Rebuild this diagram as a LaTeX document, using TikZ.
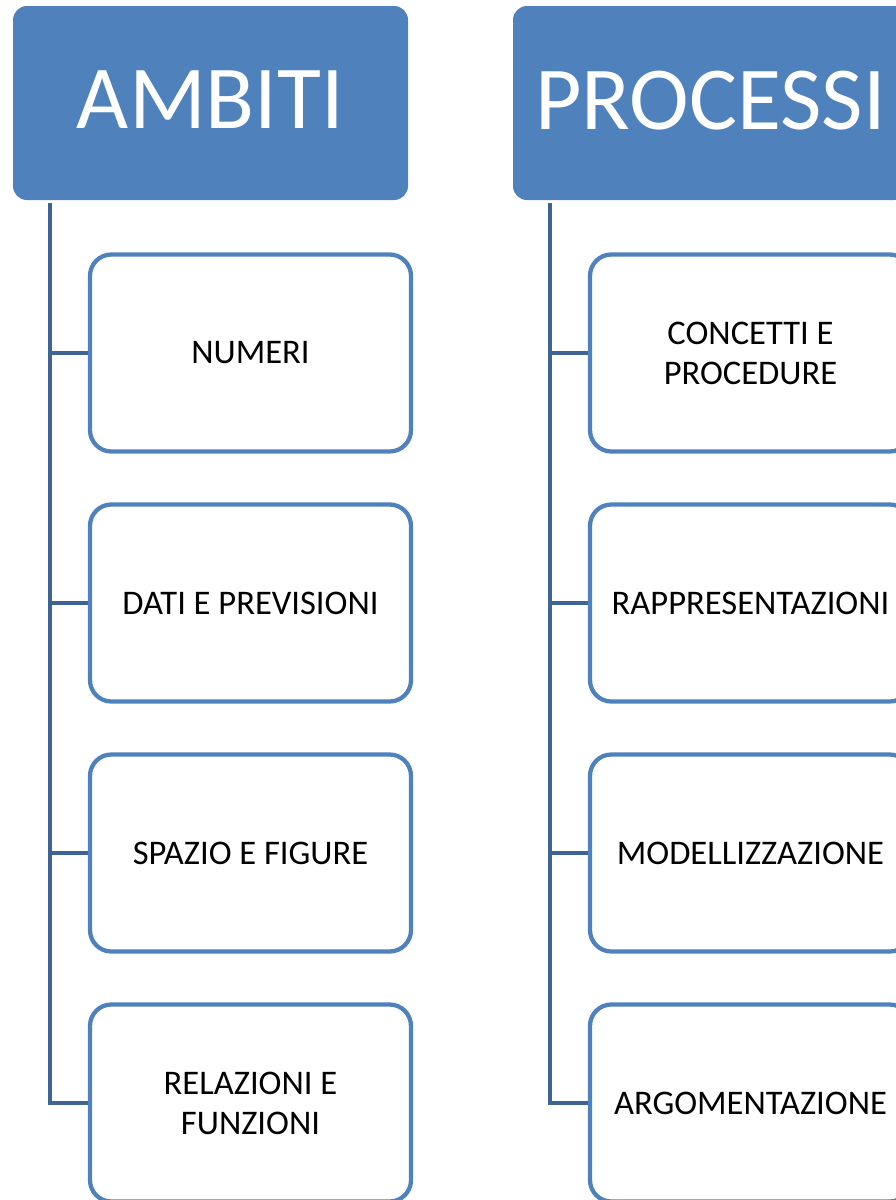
\documentclass[tikz,border=0pt]{standalone}
\usepackage{fontspec}
\setmainfont{Carlito}
\usetikzlibrary{backgrounds}
\definecolor{accent}{HTML}{4F81BD}
\definecolor{linkline}{RGB}{62,100,150}
\begin{document}
\begin{tikzpicture}[x=0.75pt,y=-0.75pt,
  header/.style={rectangle, rounded corners=10.5pt, fill=accent, text=white,
    minimum width=296.25pt, minimum height=145.5pt, inner sep=0pt,
    font=\fontsize{67.5}{80}\selectfont, text depth=4.5pt},
  item/.style={rectangle, rounded corners=16pt, draw=accent, line width=3.2pt,
    fill=white, minimum width=240.75pt, minimum height=147.75pt, inner sep=0pt,
    align=center, font=\fontsize{25.9}{30}\selectfont},
  link/.style={draw=linkline, line width=3.6pt, line join=miter}]
\clip (0,0) rectangle (896,1200);
\useasboundingbox (0,0) rectangle (896,1200);

% column headers
\node[header] (hA) at (210.5,103) {AMBITI};
\node[header] (hP) at (710.5,103) {PROCESSI};

% left column
\node[item] (a1) at (250.5,353)  {NUMERI};
\node[item] (a2) at (250.5,603)  {DATI E PREVISIONI};
\node[item] (a3) at (250.5,853)  {SPAZIO E FIGURE};
\node[item] (a4) at (250.5,1103) {RELAZIONI E\\FUNZIONI};

% right column
\node[item] (p1) at (750.5,353)  {CONCETTI E\\PROCEDURE};
\node[item] (p2) at (750.5,603)  {RAPPRESENTAZIONI};
\node[item] (p3) at (750.5,853)  {MODELLIZZAZIONE};
\node[item] (p4) at (750.5,1103) {ARGOMENTAZIONE};

% spines with branches
\coordinate (sa) at (50,203);
\coordinate (sp) at (550,203);
\begin{scope}[on background layer]
  \draw[link] (sa) |- (a4.west);
  \foreach \n in {a1,a2,a3} \draw[link] (sa |- \n.west) -- (\n.west);
  \draw[link] (sp) |- (p4.west);
  \foreach \n in {p1,p2,p3} \draw[link] (sp |- \n.west) -- (\n.west);
\end{scope}
\end{tikzpicture}
\end{document}
